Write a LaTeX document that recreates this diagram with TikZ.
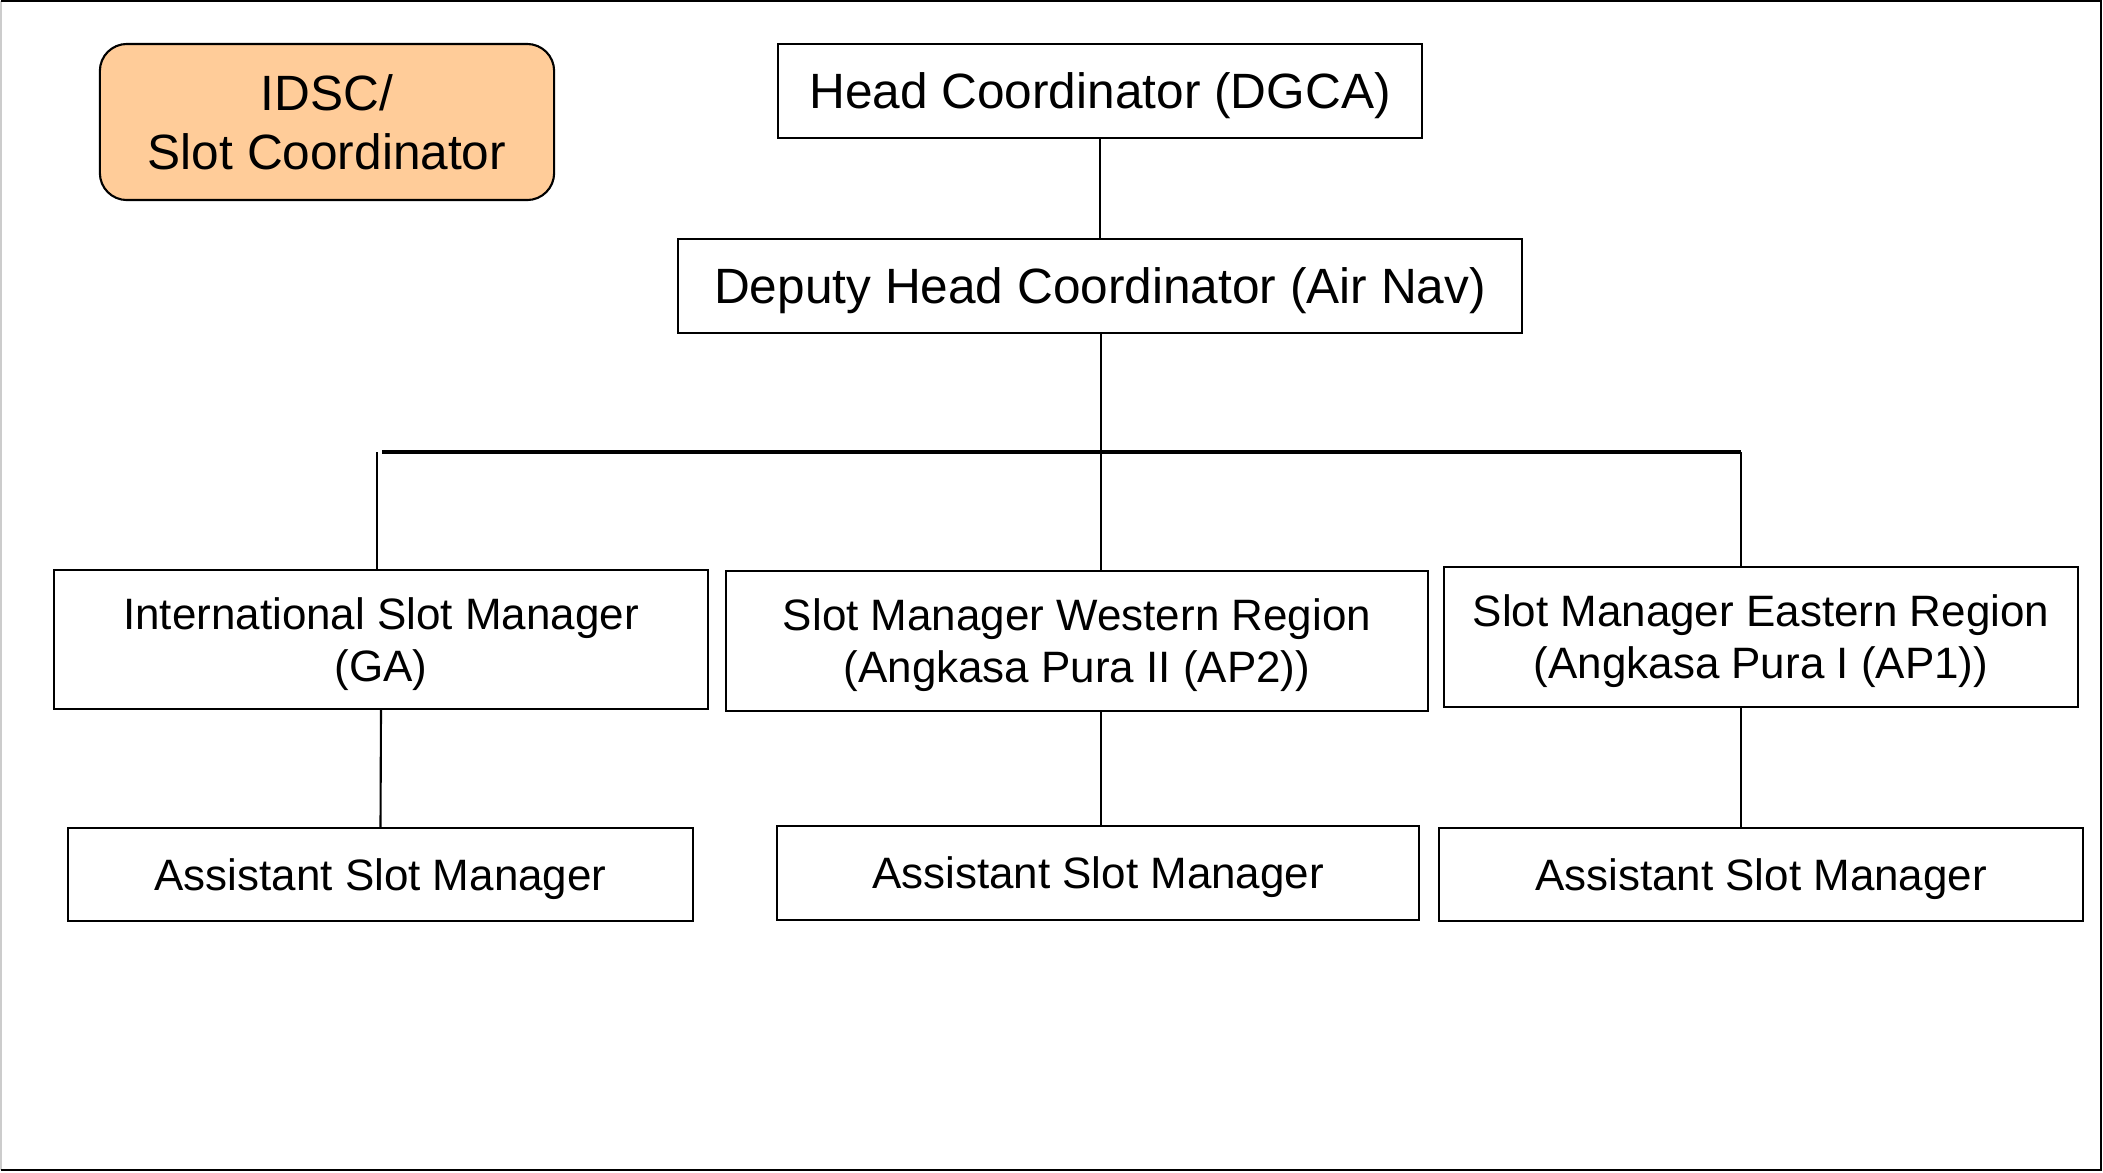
\documentclass[tikz,border=0pt]{standalone}
\usepackage{fontspec}
\setmainfont{Liberation Sans}
\begin{document}
\begin{tikzpicture}[x=0.01cm,y=-0.01cm,
  box/.style={draw, line width=0.6pt, fill=white, inner sep=0pt, align=center, text depth=0pt},
  bigtext/.style={font=\fontsize{14.1pt}{17pt}\selectfont},
  smalltext/.style={font=\fontsize{12.5pt}{14.8pt}\selectfont},
  conn/.style={line width=0.6pt},
  bus/.style={line width=1pt}]
\definecolor{peach}{HTML}{FFCC99}
\useasboundingbox (0,0) rectangle (2103,1172);
% frame
\draw[gray!40, line width=0.8pt] (1,1) -- (1,1170);
\draw[line width=0.8pt] (1,1) -- (2101,1) -- (2101,1170) -- (1,1170);

\node[box, bigtext, fill=peach, rounded corners=0.27cm, minimum width=4.54cm, minimum height=1.56cm] (idsc) at (327,122) {IDSC/\\Slot Coordinator};
\node[box, bigtext, minimum width=6.43cm, minimum height=0.94cm] (head) at (1100,91) {Head Coordinator (DGCA)};
\node[box, bigtext, minimum width=8.43cm, minimum height=0.94cm] (deputy) at (1100,286) {Deputy Head Coordinator (Air Nav)};

\node[box, smalltext, minimum width=6.54cm, minimum height=1.39cm] (intl) at (381,639.5) {International Slot Manager\\(GA)};
\node[box, smalltext, minimum width=7.02cm, minimum height=1.40cm] (western) at (1077,641) {Slot Manager Western Region\\(Angkasa Pura II (AP2))};
\node[box, smalltext, minimum width=6.34cm, minimum height=1.40cm] (eastern) at (1761,637) {Slot Manager Eastern Region\\(Angkasa Pura I (AP1))};

\node[box, smalltext, minimum width=6.25cm, minimum height=0.93cm] (asst1) at (380.5,874.5) {Assistant Slot Manager};
\node[box, smalltext, minimum width=6.42cm, minimum height=0.94cm] (asst2) at (1098,873) {Assistant Slot Manager};
\node[box, smalltext, minimum width=6.44cm, minimum height=0.93cm] (asst3) at (1761,874.5) {Assistant Slot Manager};

\coordinate (busL) at (382,452);
\coordinate (busR) at (1741,452);
\coordinate (dropL) at (377,452);
\coordinate (dropM) at (1101,452);

\draw[conn] (head.south) -- (deputy.north);
\draw[bus] (busL) -- (busR);
\draw[conn] (deputy.south -| dropM) -- (dropM) -- (dropM |- western.north);
\draw[conn] (dropL) -- (dropL |- intl.north);
\draw[conn] (busR) -- (busR |- eastern.north);

\draw[conn] (intl.south) -- (asst1.north);
\draw[conn] (dropM |- western.south) -- (dropM |- asst2.north);
\draw[conn] (busR |- eastern.south) -- (busR |- asst3.north);
\end{tikzpicture}
\end{document}
